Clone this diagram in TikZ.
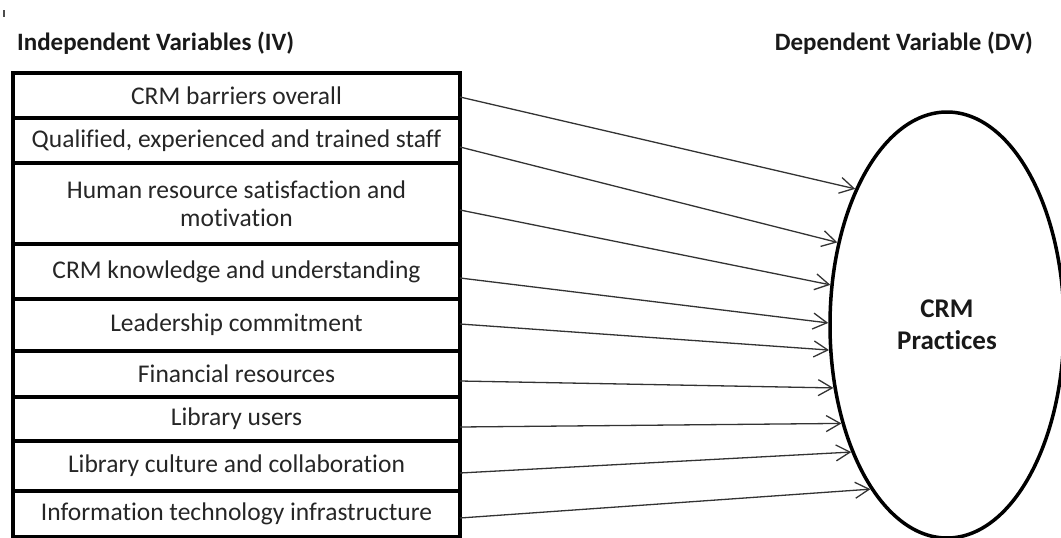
\documentclass[tikz,border=0pt]{standalone}
\usepackage{fontspec}
\setmainfont{Carlito}[Ligatures=NoCommon]
\usetikzlibrary{shapes.geometric,arrows.meta}

\begin{document}
\begin{tikzpicture}[x=1pt,y=-1pt,
  ivbox/.style={draw, line width=3.5pt, minimum width=447pt, inner sep=0pt,
    outer sep=0pt, align=center, text=black!85,
    font=\fontsize{25.5}{28}\selectfont},
  hdr/.style={font=\bfseries\fontsize{25}{30}\selectfont, inner sep=0pt, text=black!90},
  dvshape/.style={draw, ellipse, line width=3.5pt, minimum width=234pt,
    minimum height=426pt, inner sep=0pt, align=center,
    font=\bfseries\fontsize{27}{32}\selectfont, text=black!90},
  link/.style={line width=1.3pt, black!80,
    -{Straight Barb[length=14pt,width=16pt,line width=1.3pt]}}
]
\useasboundingbox (0,0) rectangle (1061,538);

% small mark in the top left corner
\draw[line width=1.2pt, black!70] (4,10) -- (4,17);

% column headings
\node[hdr, anchor=base west] (ivh) at (17,50) {Independent Variables (IV)};
\node[hdr, anchor=base east] (dvh) at (1033,50) {Dependent Variable (DV)};

% independent variables
\node[ivbox, minimum height=45pt] (b1) at (236.5,95.5) {CRM barriers overall};
\node[ivbox, minimum height=45pt] (b2) at (236.5,140.5) {Qualified, experienced and trained staff};
\node[ivbox, minimum height=81pt] (b3) at (236.5,203.5) {Human resource satisfaction and\\motivation};
\node[ivbox, minimum height=55pt] (b4) at (236.5,271.5) {CRM knowledge and understanding};
\node[ivbox, minimum height=52pt] (b5) at (236.5,325) {Leadership commitment};
\node[ivbox, minimum height=46pt] (b6) at (236.5,374) {Financial resources};
\node[ivbox, minimum height=44pt] (b7) at (236.5,419) {Library users};
\node[ivbox, minimum height=50pt] (b8) at (236.5,466) {Library culture and collaboration};
\node[ivbox, minimum height=46pt] (b9) at (236.5,514) {Information technology infrastructure};

% dependent variable
\node[dvshape] (dv) at (947,325) {CRM\\Practices};

% links
\draw[link] ([yshift=-1.5pt]b1.east) -- (dv.124.9);
\draw[link] ([yshift=-6.5pt]b2.east) -- (dv.143.7);
\draw[link] ([yshift=-6.5pt]b3.east) -- (dv.161.3);
\draw[link] ([yshift=-6.5pt]b4.east) -- (dv.179);
\draw[link] ([yshift=1pt]b5.east) -- (dv.192.1);
\draw[link] ([yshift=-7pt]b6.east) -- (dv.209);
\draw[link] ([yshift=-8pt]b7.east) -- (dv.223);
\draw[link] ([yshift=-7pt]b8.east) -- (dv.233.7);
\draw[link] ([yshift=-4pt]b9.east) -- (dv.245.6);
\end{tikzpicture}
\end{document}
